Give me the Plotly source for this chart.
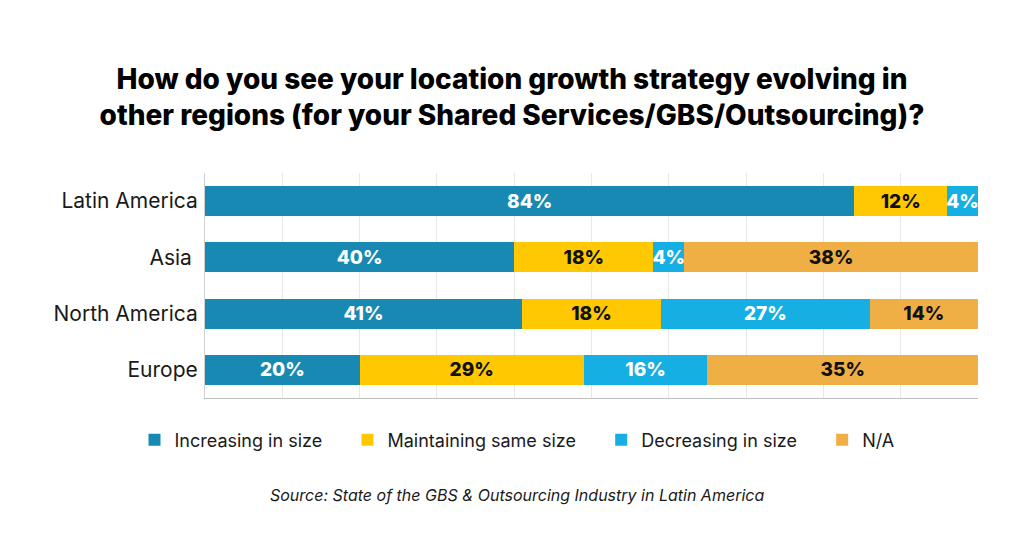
import plotly.graph_objects as go

regions = ["Latin America", "Asia ", "North America", "Europe"]
increasing = [84, 40, 41, 20]
maintaining = [12, 18, 18, 29]
decreasing = [4, 4, 27, 16]
na = [0, 38, 14, 35]

NB = "\u00a0" * 4
series = [
    ("Increasing in size" + NB, increasing, "#1789B3", "white"),
    ("Maintaining same size" + NB, maintaining, "#FFC800", "#111111"),
    ("Decreasing in size" + NB, decreasing, "#15AFE4", "white"),
    ("N/A", na, "#F0AF45", "#111111"),
]

# page has an 8px body margin; figure coordinates are page coordinates minus 8
OFF = 8
W, H = 1024, 541
ML, MR, MT, MB = 205 - OFF, W - (978 - OFF), 173 - OFF, H - (398 - OFF)
PW, PH = W - ML - MR, H - MT - MB

FONT = "Inter, Lato, sans-serif"

fig = go.Figure()
for name, vals, color, tcolor in series:
    fig.add_trace(go.Bar(
        y=regions, x=vals, name=name, orientation="h",
        marker=dict(color=color, line=dict(width=0)),
        text=[f"{v}%" if v > 0 else "" for v in vals],
        textposition="inside", insidetextanchor="middle", textangle=0,
        textfont=dict(family=FONT, size=19, color=tcolor, weight=800),
        hoverinfo="skip",
    ))

fig.update_layout(
    barmode="stack",
    bargap=0.47,
    width=W, height=H,
    paper_bgcolor="white", plot_bgcolor="white",
    margin=dict(l=ML, r=MR, t=MT, b=MB, autoexpand=False),
    uniformtext=dict(minsize=18, mode="show"),
    title=dict(
        text="How do you see your location growth strategy evolving in<br>other regions (for your Shared Services/GBS/Outsourcing)?",
        x=(512 - OFF) / W, xanchor="center", xref="container",
        y=1 - (89 - OFF) / H, yanchor="middle", yref="container",
        font=dict(family=FONT, size=28, color="#000000", weight=800),
    ),
    xaxis=dict(
        range=[0, 100], dtick=10, showticklabels=False, ticks="",
        showgrid=True, gridcolor="#E8E8E8", gridwidth=1,
        showline=True, linecolor="#BDBDBD", linewidth=1,
        zeroline=False, fixedrange=True,
    ),
    yaxis=dict(
        autorange="reversed", showgrid=False, showline=True, linecolor="#D0D0D0",
        ticks="", ticklabelstandoff=2,
        tickfont=dict(family=FONT, size=21, color="#1a1a1a"),
        zeroline=False,
    ),
    legend=dict(
        orientation="h", x=(517 - OFF) / W, xanchor="center", xref="container",
        y=1 - (440 - OFF) / H, yanchor="middle", yref="container",
        font=dict(family=FONT, size=18, color="#1a1a1a"),
        traceorder="normal", itemwidth=30,
    ),
    annotations=[dict(
        text="<i>Source: State of the GBS &amp; Outsourcing Industry in Latin America</i>",
        x=(517 - OFF - ML) / PW, xref="paper", xanchor="center",
        y=(MT + PH - (495 - OFF)) / PH, yref="paper", yanchor="middle",
        showarrow=False,
        font=dict(family=FONT, size=16, color="#1a1a1a"),
    )],
)

fig.write_html("out.html")
